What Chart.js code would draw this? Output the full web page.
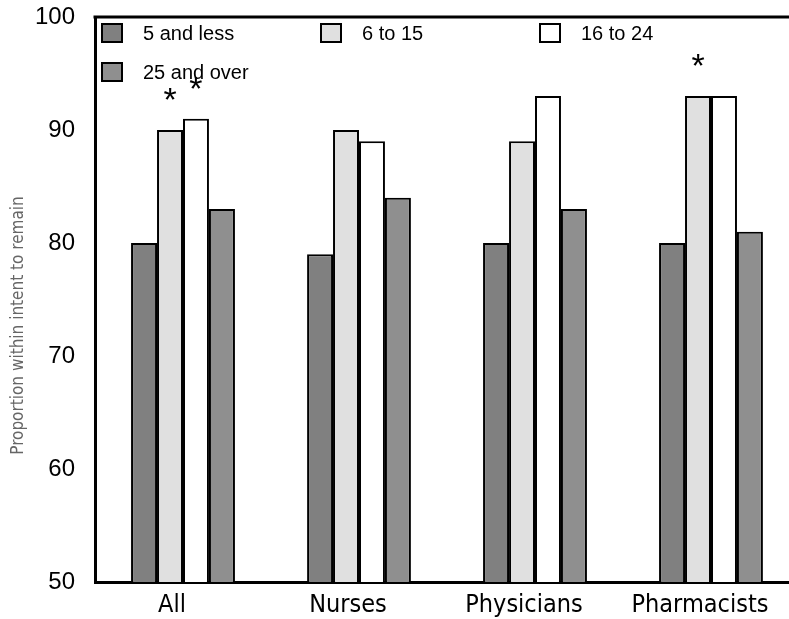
<!DOCTYPE html>
<html>
<head>
<meta charset="utf-8">
<script src="https://cdn.jsdelivr.net/npm/chart.js@4.4.1/dist/chart.umd.min.js"></script>
<style>
  html, body { margin: 0; padding: 0; background: #fff; overflow: hidden; }
  #wrap { width: 805px; height: 619px; }
</style>
</head>
<body>
<div id="wrap"><canvas id="chart" width="805" height="619"></canvas></div>
<script>
// Professional groups on the x axis
const categories = ['All', 'Nurses', 'Physicians', 'Pharmacists'];
// Years-of-experience groups (one series each)
const seriesNames = ['5 and less', '6 to 15', '16 to 24', '25 and over'];
// Proportion with intent to remain, per group
const yrs5AndLess = [80, 79, 80, 80];
const yrs6to15 = [90, 90, 89, 93];
const yrs16to24 = [91, 89, 93, 93];
const yrs25AndOver = [83, 84, 83, 81];
// Significance markers (asterisks) per series
const star6to15 = [true, false, false, true];
const star16to24 = [true, false, false, false];
// Value axis
const yMin = 50, yMax = 100, yStep = 10;
const yTitle = 'Proportion within intent to remain';

const fills = ['#808080', '#e0e0e0', '#ffffff', '#8f8f8f'];
const seriesValues = [yrs5AndLess, yrs6to15, yrs16to24, yrs25AndOver];
const seriesStars = [null, star6to15, star16to24, null];

const datasets = seriesNames.map((name, i) => ({
  label: name,
  data: seriesValues[i],
  backgroundColor: fills[i],
  borderColor: '#000',
  borderWidth: 2,
  borderSkipped: 'bottom',
  categoryPercentage: 0.59,
  barPercentage: 1.0
}));

const SANS = '"Liberation Sans", Arial, sans-serif';
const NARROW = '"Liberation Sans Narrow", "Arial Narrow", "DejaVu Sans Condensed", sans-serif';

// Frame line along the top of the plot area
const framePlugin = {
  id: 'frame',
  beforeDatasetsDraw(chart) {
    const { ctx, chartArea: ca } = chart;
    ctx.save();
    ctx.strokeStyle = '#000';
    ctx.lineWidth = 3;
    ctx.beginPath();
    ctx.moveTo(ca.left - 1.5, ca.top);
    ctx.lineTo(ca.right, ca.top);
    ctx.stroke();
    ctx.restore();
  }
};

// Legend boxed into the top-left of the plot, three entries per row
const insetLegend = {
  id: 'insetLegend',
  afterDatasetsDraw(chart) {
    const { ctx, chartArea: ca } = chart;
    ctx.save();
    chart.data.datasets.forEach((ds, i) => {
      const col = i % 3, row = Math.floor(i / 3);
      const sx = ca.left + 7 + col * 219;
      const sy = ca.top + 7 + row * 39;
      ctx.fillStyle = ds.backgroundColor;
      ctx.fillRect(sx, sy, 20, 18);
      ctx.strokeStyle = '#000';
      ctx.lineWidth = 2;
      ctx.strokeRect(sx, sy, 20, 18);
      ctx.fillStyle = '#000';
      ctx.font = '20px ' + SANS;
      ctx.textAlign = 'left';
      ctx.textBaseline = 'middle';
      ctx.fillText(ds.label, sx + 41, sy + 10);
    });
    ctx.restore();
  }
};

// Asterisks above the flagged bars
const starPlugin = {
  id: 'stars',
  afterDatasetsDraw(chart) {
    const { ctx } = chart;
    ctx.save();
    ctx.fillStyle = '#000';
    ctx.font = '34px ' + SANS;
    ctx.textAlign = 'center';
    ctx.textBaseline = 'top';
    seriesStars.forEach((flags, di) => {
      if (!flags) return;
      const meta = chart.getDatasetMeta(di);
      flags.forEach((on, idx) => {
        if (!on) return;
        const bar = meta.data[idx];
        ctx.fillText('*', bar.x, bar.y - 45);
      });
    });
    ctx.restore();
  }
};

// Rotated value-axis title
const yTitlePlugin = {
  id: 'yTitle',
  afterDraw(chart) {
    const { ctx, chartArea: ca } = chart;
    ctx.save();
    ctx.translate(19, (ca.top + ca.bottom) / 2 + 26);
    ctx.rotate(-Math.PI / 2);
    ctx.fillStyle = '#666';
    ctx.font = '17px ' + NARROW;
    ctx.textAlign = 'center';
    ctx.textBaseline = 'middle';
    ctx.fillText(yTitle, 0, 0);
    ctx.restore();
  }
};

new Chart(document.getElementById('chart'), {
  type: 'bar',
  data: { labels: categories, datasets },
  options: {
    responsive: false,
    animation: false,
    events: [],
    layout: { padding: { top: 17, right: 6, bottom: 0, left: 0 } },
    plugins: {
      legend: { display: false },
      tooltip: { enabled: false }
    },
    scales: {
      x: {
        grid: { display: false, drawTicks: false },
        border: { display: true, color: '#000', width: 3 },
        ticks: { color: '#000', font: { family: NARROW, size: 25 }, padding: 8, labelOffset: -11 },
        afterFit(s) { s.height = 37; s.paddingLeft = 0; s.paddingRight = 0; }
      },
      y: {
        min: yMin,
        max: yMax,
        grid: { display: false, drawTicks: false },
        border: { display: true, color: '#000', width: 3 },
        ticks: { stepSize: yStep, color: '#000', font: { family: SANS, size: 24 }, padding: 20 },
        afterFit(s) { s.width = 95; s.paddingTop = 0; s.paddingBottom = 0; }
      }
    }
  },
  plugins: [framePlugin, insetLegend, starPlugin, yTitlePlugin]
});
</script>
</body>
</html>
